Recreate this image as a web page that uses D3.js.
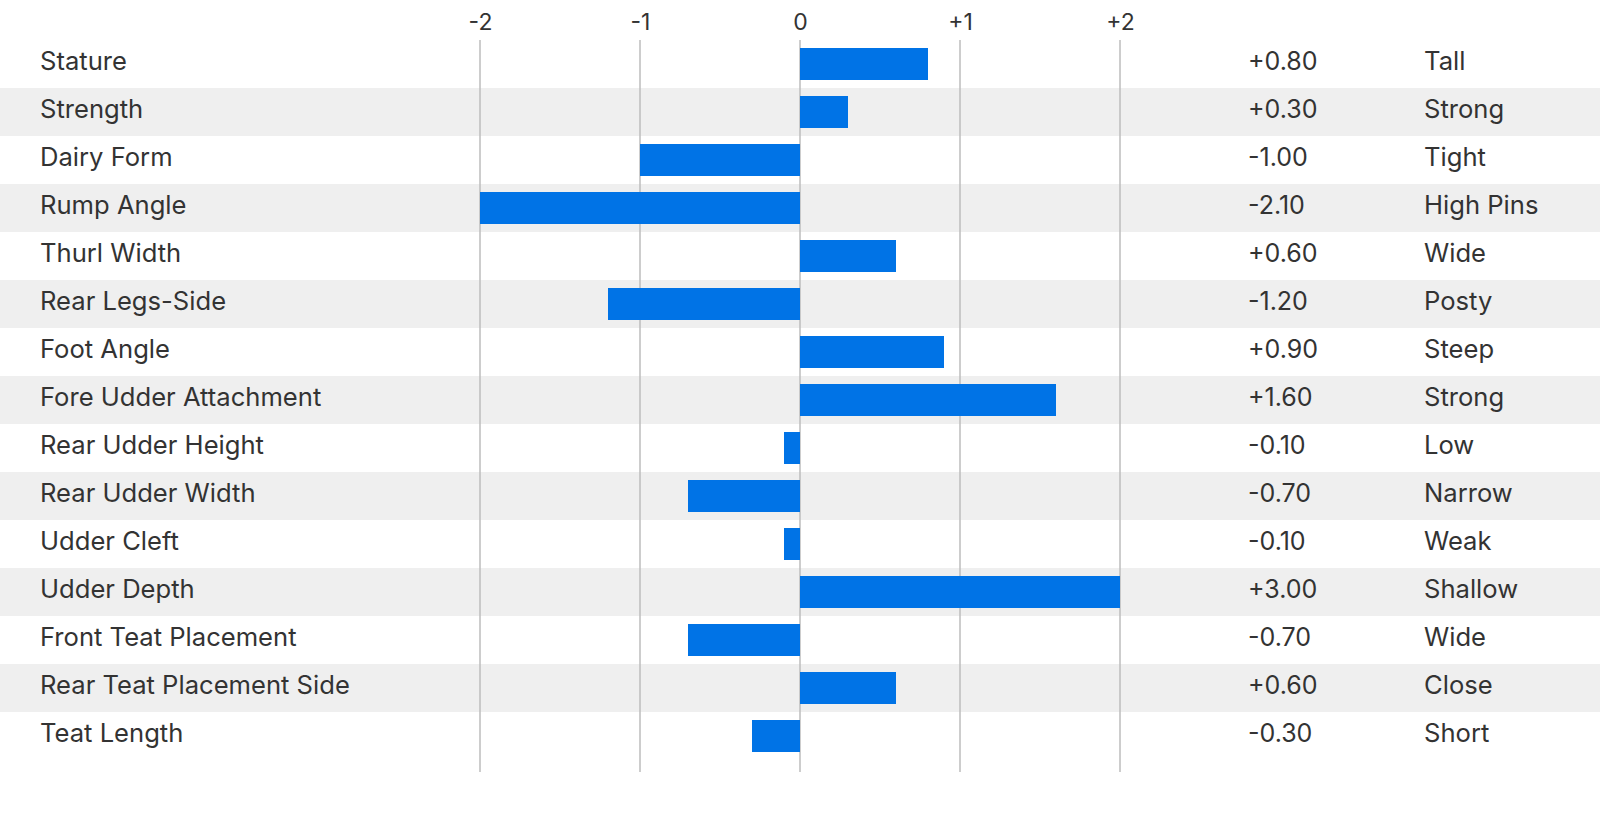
<!DOCTYPE html>
<html>
<head>
<meta charset="utf-8">
<script src="https://cdn.jsdelivr.net/npm/d3@7"></script>
<style>
  html, body { margin: 0; padding: 0; background: #fff; }
  svg { display: block; }
  text { font-family: Inter, "Noto Sans", sans-serif; fill: #333; }
</style>
</head>
<body>
<svg id="chart" width="1600" height="836"></svg>
<script>
const traits = ["Stature","Strength","Dairy Form","Rump Angle","Thurl Width","Rear Legs-Side","Foot Angle","Fore Udder Attachment","Rear Udder Height","Rear Udder Width","Udder Cleft","Udder Depth","Front Teat Placement","Rear Teat Placement Side","Teat Length"];
const values = [0.8, 0.3, -1.0, -2.1, 0.6, -1.2, 0.9, 1.6, -0.1, -0.7, -0.1, 3.0, -0.7, 0.6, -0.3];
const descriptors = ["Tall","Strong","Tight","High Pins","Wide","Posty","Steep","Strong","Low","Narrow","Weak","Shallow","Wide","Close","Short"];
const tickValues = [-2, -1, 0, 1, 2];

const svg = d3.select("#chart");
const W = 1600;

const x = d3.scaleLinear().domain([-2, 2]).range([480, 1120]).clamp(true);
const y = d3.scaleBand().domain(traits).range([40, 760]).paddingInner(1/3).paddingOuter(1/6);
const step = y.step();
const off = step * y.paddingInner() / 2;

const rows = traits.map((t, i) => ({ t, v: values[i], d: descriptors[i], i }));

// stripes
svg.append("g").selectAll("rect").data(rows.filter(r => r.i % 2 === 1)).join("rect")
  .attr("x", 0).attr("width", W)
  .attr("y", r => y(r.t) - off).attr("height", step)
  .attr("fill", "#efefef");

// gridlines
svg.append("g").selectAll("line").data(tickValues).join("line")
  .attr("x1", d => x(d)).attr("x2", d => x(d))
  .attr("y1", 40).attr("y2", 772)
  .attr("stroke", "#bdbdbd").attr("stroke-width", 1.5);

// axis
const fmtTick = d => (d > 0 ? "+" : "") + String(d);
const axis = svg.append("g").attr("transform", "translate(0,40)")
  .call(d3.axisTop(x).tickValues(tickValues).tickSize(0).tickPadding(10).tickFormat(fmtTick));
axis.select(".domain").remove();
axis.selectAll("text").attr("font-size", 23).attr("font-family", "Inter, sans-serif").attr("fill", "#333");

// bars
svg.append("g").selectAll("rect").data(rows).join("rect")
  .attr("x", r => x(Math.min(0, r.v)))
  .attr("width", r => Math.abs(x(r.v) - x(0)))
  .attr("y", r => y(r.t)).attr("height", y.bandwidth())
  .attr("fill", "#0073e6");

const baseline = r => y(r.t) + y.bandwidth() / 2 + 6;

// labels
svg.append("g").selectAll("text").data(rows).join("text")
  .attr("x", 40).attr("y", baseline).attr("font-size", 25.6)
  .text(r => r.t);

svg.append("g").selectAll("text").data(rows).join("text")
  .attr("x", 1248).attr("y", baseline).attr("font-size", 25)
  .text(r => (r.v > 0 ? "+" : "") + r.v.toFixed(2));

svg.append("g").selectAll("text").data(rows).join("text")
  .attr("x", 1424).attr("y", baseline).attr("font-size", 25.6)
  .text(r => r.d);
</script>
</body>
</html>
